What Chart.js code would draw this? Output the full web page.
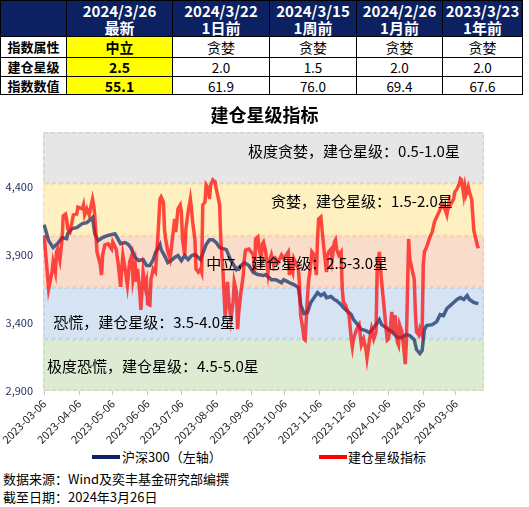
<!DOCTYPE html>
<html>
<head>
<meta charset="utf-8">
<script src="https://cdn.jsdelivr.net/npm/chart.js@4.4.1/dist/chart.umd.min.js"></script>
<style>
  html, body { margin:0; padding:0; background:#fff; }
  body { width:529px; height:507px; position:relative; overflow:hidden; font-family:"Noto Sans CJK SC", sans-serif; }
  #tbl { position:absolute; left:0; top:0; width:523px; border-collapse:collapse; table-layout:fixed; }
  #tbl td { border:1px solid #000; text-align:center; padding:0; font-size:14px; color:#000; line-height:16px; }
  #tbl tr.hd td { background:#0b2161; color:#fff; font-weight:bold; font-size:15px; line-height:17px; height:35px; }
  #tbl td.lab { font-weight:bold; font-size:13px; }
  #tbl td.cur { background:#ffff00; font-weight:bold; font-size:14px; }
  #tbl td.num { font-size:13.5px; }
  #wrap { position:absolute; left:0; top:97px; width:529px; height:350px; }
  #legend { position:absolute; left:0; top:447px; width:529px; height:20px; font-size:13px; color:#000; }
  #legend .sw { position:absolute; top:8px; width:28px; height:4px; }
  #legend .tx { position:absolute; top:0; line-height:20px; white-space:nowrap; }
  .src { position:absolute; left:3px; font-size:13px; line-height:18px; color:#000; white-space:nowrap; }
</style>
</head>
<body>
<table id="tbl"></table>
<div id="wrap"><canvas id="c"></canvas></div>
<div id="legend"></div>
<div class="src" id="src1" style="top:470px"></div>
<div class="src" id="src2" style="top:488px"></div>
<script>
// ---------- table data ----------
const tableDates = ['2024/3/26','2024/3/22','2024/3/15','2024/2/26','2023/3/23'];
const tableLags = ['最新','1日前','1周前','1月前','1年前'];
const tableRowNames = ['指数属性','建仓星级','指数数值'];
const tableAttr = ['中立','贪婪','贪婪','贪婪','贪婪'];
const tableStars = ['2.5','2.0','1.5','2.0','2.0'];
const tableValues = ['55.1','61.9','76.0','69.4','67.6'];

// ---------- chart data ----------
const hsDates = ['2023-03-06','2023-03-10','2023-03-14','2023-03-18','2023-03-22','2023-03-26','2023-03-27','2023-03-31','2023-04-04','2023-04-09','2023-04-13','2023-04-18','2023-04-20','2023-04-23','2023-04-27','2023-05-01','2023-05-08','2023-05-10','2023-05-13','2023-05-17','2023-05-20','2023-05-22','2023-05-26','2023-05-29','2023-06-02','2023-06-05','2023-06-08','2023-06-11','2023-06-13','2023-06-17','2023-06-18','2023-06-21','2023-06-24','2023-06-27','2023-06-30','2023-07-03','2023-07-06','2023-07-09','2023-07-12','2023-07-15','2023-07-18','2023-07-23','2023-07-28','2023-07-31','2023-08-03','2023-08-06','2023-08-09','2023-08-15','2023-08-19','2023-08-24','2023-08-28','2023-08-31','2023-09-04','2023-09-08','2023-09-12','2023-09-17','2023-09-19','2023-09-24','2023-09-28','2023-10-03','2023-10-05','2023-10-10','2023-10-14','2023-10-18','2023-10-20','2023-10-23','2023-10-26','2023-10-29','2023-11-01','2023-11-04','2023-11-07','2023-11-10','2023-11-12','2023-11-16','2023-11-19','2023-11-21','2023-11-25','2023-11-27','2023-11-30','2023-12-04','2023-12-06','2023-12-09','2023-12-13','2023-12-17','2023-12-20','2023-12-22','2023-12-26','2023-12-29','2023-12-31','2024-01-04','2024-01-06','2024-01-09','2024-01-14','2024-01-18','2024-01-22','2024-01-25','2024-01-29','2024-01-31','2024-02-03','2024-02-05','2024-02-07','2024-02-09','2024-02-14','2024-02-18','2024-02-21','2024-02-24','2024-02-27','2024-03-02','2024-03-04','2024-03-07','2024-03-10','2024-03-13','2024-03-16','2024-03-18','2024-03-22','2024-03-26'];
const hsValues = [4120,4003,3952,3981,4025,4018,4054,4091,4098,4128,4135,4172,4054,4003,4025,4040,4054,4025,3981,3989,3974,3952,3879,3857,3864,3820,3820,3864,3915,3974,3937,3893,3842,3857,3879,3893,3857,3893,3864,3893,3901,3864,3974,4010,4010,3989,3952,3937,3857,3791,3820,3842,3820,3769,3754,3747,3754,3717,3717,3695,3717,3695,3681,3659,3534,3468,3475,3549,3585,3622,3600,3615,3585,3593,3571,3563,3534,3512,3490,3461,3424,3395,3351,3343,3329,3343,3387,3424,3387,3365,3351,3336,3292,3292,3314,3307,3277,3204,3175,3197,3351,3380,3387,3409,3461,3453,3505,3534,3549,3571,3585,3571,3600,3571,3549,3541];

const idxDates = ['2023-03-06','2023-03-10','2023-03-13','2023-03-14','2023-03-16','2023-03-17','2023-03-18','2023-03-20','2023-03-22','2023-03-23','2023-03-25','2023-03-26','2023-03-27','2023-03-29','2023-04-01','2023-04-04','2023-04-05','2023-04-09','2023-04-10','2023-04-11','2023-04-13','2023-04-15','2023-04-18','2023-04-19','2023-04-20','2023-04-22','2023-04-25','2023-04-26','2023-04-27','2023-04-29','2023-05-02','2023-05-05','2023-05-06','2023-05-09','2023-05-11','2023-05-13','2023-05-14','2023-05-15','2023-05-17','2023-05-19','2023-05-21','2023-05-23','2023-05-24','2023-05-26','2023-05-27','2023-05-28','2023-05-30','2023-05-31','2023-06-02','2023-06-04','2023-06-05','2023-06-06','2023-06-08','2023-06-09','2023-06-11','2023-06-13','2023-06-14','2023-06-15','2023-06-17','2023-06-18','2023-06-20','2023-06-21','2023-06-22','2023-06-24','2023-06-26','2023-06-29','2023-06-30','2023-07-01','2023-07-03','2023-07-05','2023-07-06','2023-07-07','2023-07-09','2023-07-10','2023-07-12','2023-07-14','2023-07-15','2023-07-16','2023-07-18','2023-07-19','2023-07-21','2023-07-23','2023-07-24','2023-07-25','2023-07-27','2023-07-28','2023-07-30','2023-07-31','2023-08-01','2023-08-03','2023-08-05','2023-08-06','2023-08-08','2023-08-09','2023-08-10','2023-08-12','2023-08-14','2023-08-16','2023-08-17','2023-08-19','2023-08-21','2023-08-22','2023-08-24','2023-08-25','2023-08-26','2023-08-28','2023-08-30','2023-08-31','2023-09-01','2023-09-04','2023-09-08','2023-09-09','2023-09-10','2023-09-12','2023-09-13','2023-09-15','2023-09-16','2023-09-17','2023-09-19','2023-09-21','2023-09-22','2023-09-24','2023-09-26','2023-09-28','2023-09-30','2023-10-03','2023-10-05','2023-10-09','2023-10-10','2023-10-11','2023-10-13','2023-10-14','2023-10-18','2023-10-19','2023-10-20','2023-10-22','2023-10-23','2023-10-24','2023-10-26','2023-10-27','2023-10-29','2023-10-30','2023-11-01','2023-11-03','2023-11-04','2023-11-05','2023-11-07','2023-11-08','2023-11-10','2023-11-12','2023-11-13','2023-11-14','2023-11-16','2023-11-17','2023-11-19','2023-11-20','2023-11-21','2023-11-23','2023-11-25','2023-11-26','2023-11-27','2023-11-29','2023-11-30','2023-12-02','2023-12-04','2023-12-05','2023-12-06','2023-12-08','2023-12-09','2023-12-11','2023-12-13','2023-12-14','2023-12-15','2023-12-17','2023-12-18','2023-12-20','2023-12-21','2023-12-22','2023-12-24','2023-12-26','2023-12-27','2023-12-29','2023-12-30','2023-12-31','2024-01-02','2024-01-04','2024-01-05','2024-01-06','2024-01-08','2024-01-09','2024-01-11','2024-01-12','2024-01-14','2024-01-15','2024-01-16','2024-01-18','2024-01-20','2024-01-21','2024-01-22','2024-01-24','2024-01-25','2024-01-27','2024-01-29','2024-01-30','2024-01-31','2024-02-02','2024-02-03','2024-02-05','2024-02-06','2024-02-07','2024-02-09','2024-02-12','2024-02-14','2024-02-16','2024-02-20','2024-02-23','2024-02-26','2024-02-27','2024-02-29','2024-03-01','2024-03-04','2024-03-05','2024-03-07','2024-03-09','2024-03-10','2024-03-11','2024-03-13','2024-03-14','2024-03-15','2024-03-17','2024-03-18','2024-03-20','2024-03-22','2024-03-23','2024-03-25','2024-03-26'];
const idxValues = [60.2,39.4,45.9,49.8,45.9,53.7,54.8,50.6,58.7,67.6,68.3,66.4,62.5,61.4,68.0,68.3,71.0,70.3,71.8,68.0,70.3,68.0,74.1,71.8,68.0,53.7,48.6,44.8,52.5,56.4,56.8,54.8,57.5,54.8,48.6,40.2,47.1,52.5,47.1,40.9,49.8,52.5,43.2,48.6,42.1,47.1,38.2,31.3,45.9,40.2,42.1,33.6,33.2,43.2,47.1,45.9,52.5,58.7,74.1,74.9,73.0,62.5,58.7,53.7,51.0,62.5,66.4,61.4,70.3,71.8,69.1,58.7,52.5,62.5,69.1,74.1,70.3,65.3,58.7,47.1,45.9,47.1,45.9,71.8,73.0,79.5,78.0,74.1,79.5,81.5,80.7,78.0,74.1,71.8,58.7,45.9,28.2,42.1,35.5,27.8,34.4,42.1,38.2,23.9,30.5,38.2,44.8,51.0,54.4,54.8,52.5,45.9,58.7,59.5,54.8,51.0,56.8,57.5,53.7,45.9,49.8,52.5,48.6,51.0,49.8,52.5,51.0,53.7,44.8,48.6,45.9,51.0,47.1,40.9,29.3,23.9,20.1,19.7,35.5,42.1,48.6,53.7,52.5,44.8,58.7,66.4,67.2,62.5,53.7,45.9,52.5,53.7,54.8,51.0,57.5,58.3,54.8,52.5,53.7,39.4,34.4,33.2,31.7,29.3,20.1,17.0,20.1,22.8,23.9,25.5,17.8,18.9,20.1,16.2,12.7,18.9,21.6,23.9,20.1,22.8,45.9,53.7,47.1,42.1,33.2,23.9,19.7,20.1,25.5,30.5,22.4,29.3,18.9,17.8,25.5,22.8,15.1,10.4,18.9,58.7,51.0,47.1,43.2,30.5,22.8,21.6,23.9,21.6,48.6,53.7,55.6,59.5,61.4,65.3,69.1,72.2,69.4,68.0,73.0,71.8,74.1,76.8,78.0,79.9,81.9,81.5,75.7,78.8,76.0,78.8,76.8,74.1,61.9,60.2,56.4,55.1];

const tickDates = ['2023-03-06','2023-04-06','2023-05-06','2023-06-06','2023-07-06','2023-08-06','2023-09-06','2023-10-06','2023-11-06','2023-12-06','2024-01-06','2024-02-06','2024-03-06'];
const yTickValues = [2900,3400,3900,4400];

const bandEdges = [0,20,40,60,80,100];
const bandLabels = ['极度恐慌，建仓星级：4.5-5.0星','恐慌，建仓星级：3.5-4.0星','中立，建仓星级：2.5-3.0星','贪婪，建仓星级：1.5-2.0星','极度贪婪，建仓星级：0.5-1.0星'];

const seriesNames = ['沪深300（左轴）','建仓星级指标'];
const chartTitle = '建仓星级指标';
const sourceLines = ['数据来源：Wind及奕丰基金研究部编撰','截至日期：2024年3月26日'];

// ---------- table ----------
(function buildTable(){
  const widths = [66,106,97,87,86,80];
  const t = document.getElementById('tbl');
  let html = '<colgroup>' + widths.map(w => '<col style="width:' + w + 'px">').join('') + '</colgroup>';
  html += '<tr class="hd"><td></td>' + tableDates.map((d,i) => '<td>' + d + '<br>' + tableLags[i] + '</td>').join('') + '</tr>';
  const rows = [tableAttr, tableStars, tableValues];
  const hts = [20,18,17];
  rows.forEach((r,ri) => {
    html += '<tr><td class="lab" style="height:' + hts[ri] + 'px">' + tableRowNames[ri] + '</td>' +
      r.map((v,i) => '<td class="' + (i === 0 ? 'cur' : (ri > 0 ? 'num' : '')) + '">' + v + '</td>').join('') + '</tr>';
  });
  t.innerHTML = html;
  document.getElementById('src1').textContent = sourceLines[0];
  document.getElementById('src2').textContent = sourceLines[1];
})();

// ---------- chart ----------
const FONT = '"Noto Sans CJK SC", sans-serif';
Chart.defaults.font.family = FONT;
const base = Date.parse('2023-03-06');
const toDay = s => Math.round((Date.parse(s) - base) / 86400000);

const bandFill = ['#dcebd2','#d5e3f3','#fadccb','#fef0c0','#e6e6e6'];
const bandLine = ['#c9dcbd','#bcd2ea','#f3c9b3','#fbe3a3','#d2d2d2'];
const labelPos = [[0.009, 9.7],[0.023, 26.6],[0.370, 49.4],[0.517, 73.4],[0.465, 92.7]];

const bandPlugin = {
  id: 'bands',
  beforeDatasetsDraw(chart) {
    const {ctx, chartArea: a} = chart;
    const y = chart.scales.y2;
    ctx.save();
    for (let i = 0; i < bandEdges.length - 1; i++) {
      const top = y.getPixelForValue(bandEdges[i + 1]);
      const bot = y.getPixelForValue(bandEdges[i]);
      ctx.fillStyle = bandFill[i];
      ctx.fillRect(a.left, top, a.right - a.left, bot - top);
    }
    ctx.setLineDash([4, 3]);
    ctx.lineWidth = 1.5;
    for (let i = 0; i < bandEdges.length - 1; i++) {
      const top = y.getPixelForValue(bandEdges[i + 1]);
      const bot = y.getPixelForValue(bandEdges[i]);
      ctx.strokeStyle = bandLine[i];
      ctx.strokeRect(a.left + 0.75, top + 0.75, a.right - a.left - 1.5, bot - top - 1.5);
    }
    ctx.restore();
  },
  afterDatasetsDraw(chart) {
    const {ctx, chartArea: a} = chart;
    const y = chart.scales.y2;
    ctx.save();
    ctx.font = '15px ' + FONT;
    ctx.fillStyle = '#000';
    ctx.textBaseline = 'middle';
    ctx.textAlign = 'left';
    bandLabels.forEach((t, i) => {
      ctx.fillText(t, a.left + labelPos[i][0] * (a.right - a.left), y.getPixelForValue(labelPos[i][1]));
    });
    ctx.restore();
  }
};

const chart = new Chart(document.getElementById('c'), {
  type: 'line',
  data: {
    datasets: [
      {
        label: seriesNames[0],
        data: hsDates.map((d, i) => ({x: toDay(d), y: hsValues[i]})),
        yAxisID: 'y',
        borderColor: 'rgba(0,32,96,0.68)',
        legendColor: '#0b2161',
        borderWidth: 3.5,
        pointRadius: 0,
        tension: 0,
        order: 1
      },
      {
        label: seriesNames[1],
        data: idxDates.map((d, i) => ({x: toDay(d), y: idxValues[i]})),
        yAxisID: 'y2',
        borderColor: 'rgba(255,0,0,0.7)',
        legendColor: '#ff0000',
        borderWidth: 3.5,
        pointRadius: 0,
        tension: 0,
        order: 0
      }
    ]
  },
  options: {
    responsive: true,
    maintainAspectRatio: false,
    animation: false,
    layout: {padding: {top: 0, left: 0, right: 0, bottom: 0}},
    plugins: {
      legend: {display: false},
      tooltip: {enabled: false},
      title: {
        display: true, text: chartTitle, color: '#000',
        font: {size: 18, weight: 'bold', family: FONT},
        padding: {top: 7, bottom: 6.4}
      }
    },
    scales: {
      x: {
        type: 'linear', min: -1, max: 391,
        afterBuildTicks: s => { s.ticks = tickDates.map(d => ({value: toDay(d)})); },
        afterFit: s => { s.height = 56; },
        ticks: {
          autoSkip: false, maxRotation: 45, minRotation: 45, padding: 2,
          color: '#262626', font: {size: 11},
          callback: (v, i) => tickDates[i]
        },
        grid: {display: true, drawOnChartArea: false, drawTicks: true, tickLength: 4, color: '#c8c8c8'},
        border: {display: false}
      },
      y: {
        position: 'left', min: 2900, max: 4800,
        afterBuildTicks: s => { s.ticks = yTickValues.map(v => ({value: v})); },
        afterFit: s => { s.width = 43; },
        ticks: {
          padding: 10, color: '#1f2a5c', font: {size: 11},
          callback: v => v.toLocaleString('en-US')
        },
        grid: {display: false, drawTicks: false},
        border: {display: false}
      },
      y2: {
        position: 'right', min: 0, max: 100,
        afterFit: s => { s.width = 45; },
        ticks: {display: false},
        grid: {display: false, drawTicks: false},
        border: {display: false}
      }
    }
  },
  plugins: [bandPlugin]
});

// ---------- legend (from chart datasets) ----------
(function buildLegend(){
  const lg = document.getElementById('legend');
  const pos = [[92, 122], [319, 348]];
  chart.data.datasets.forEach((ds, i) => {
    const sw = document.createElement('span');
    sw.className = 'sw';
    sw.style.left = pos[i][0] + 'px';
    sw.style.background = ds.legendColor;
    const tx = document.createElement('span');
    tx.className = 'tx';
    tx.style.left = pos[i][1] + 'px';
    tx.textContent = ds.label;
    lg.appendChild(sw);
    lg.appendChild(tx);
  });
})();
</script>
</body>
</html>
